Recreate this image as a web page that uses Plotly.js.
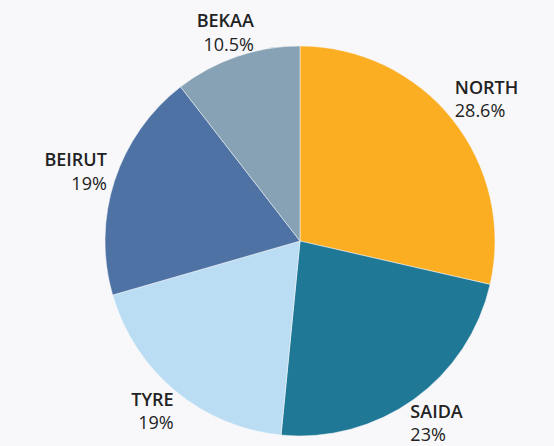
<!DOCTYPE html>
<html>
<head>
<meta charset="utf-8">
<script src="https://cdn.plot.ly/plotly-3.0.1.min.js"></script>
<style>html,body{margin:0;padding:0;background:#f8f8fa;}</style>
</head>
<body>
<div id="chart" style="width:554px;height:446px;"></div>
<script>
const labels = ['NORTH', 'SAIDA', 'TYRE', 'BEIRUT', 'BEKAA'];
const values = [28.6, 23, 19, 19, 10.5];
const colors = ['#FBAE22', '#1F7896', '#BADDF3', '#4E72A4', '#87A2B4'];

const gd = document.getElementById('chart');
Plotly.newPlot(gd, [{
  type: 'pie',
  labels: labels,
  values: values,
  sort: false,
  direction: 'clockwise',
  rotation: 0,
  marker: {colors: colors, line: {color: '#f8f8fa', width: 0.5}},
  texttemplate: '<span style="font-weight:600">%{label}</span><br>%{value}%',
  textposition: 'outside',
  textfont: {family: 'Open Sans, sans-serif', size: 18, color: '#222222'},
  hoverinfo: 'none',
  showlegend: false
}], {
  width: 554, height: 446,
  margin: {l: 105, r: 59, t: 46, b: 10},
  paper_bgcolor: '#f8f8fa',
  plot_bgcolor: '#f8f8fa',
  showlegend: false
}, {displayModeBar: false}).then(function () {
  // place each outside label just beyond the rim along its slice's mid-angle,
  // left-aligned on the right side and right-aligned on the left side
  const cd = gd.calcdata[0];
  const cd0 = cd[0];
  const R = cd0.r, cx = cd0.cx, cy = cd0.cy;
  const pad = 4;
  const texts = gd.querySelectorAll('g.slice text.slicetext');
  texts.forEach(function (t, i) {
    const pt = cd[i];
    const ux = pt.pxmid[0] / R, uy = pt.pxmid[1] / R;
    const right = ux >= 0;
    t.removeAttribute('transform');
    let bb = t.getBBox();
    const nx = right ? bb.x : bb.x + bb.width;
    t.setAttribute('text-anchor', right ? 'start' : 'end');
    t.setAttribute('x', nx);
    t.querySelectorAll('tspan.line').forEach(function (ts) { ts.setAttribute('x', nx); });
    bb = t.getBBox();
    const ext = Math.abs(ux) * bb.width / 2 + Math.abs(uy) * bb.height / 2;
    const rr = R + pad + ext;
    const ctm = t.parentNode.getCTM();
    const offX = ctm ? ctm.e : 0, offY = ctm ? ctm.f : 0;
    const X = cx + ux * rr, Y = cy + uy * (rr - 10);
    const dx = X - offX - (bb.x + bb.width / 2);
    const dy = Y - offY - (bb.y + bb.height / 2);
    t.setAttribute('transform', 'translate(' + dx + ',' + dy + ')');
  });
});
</script>
</body>
</html>
